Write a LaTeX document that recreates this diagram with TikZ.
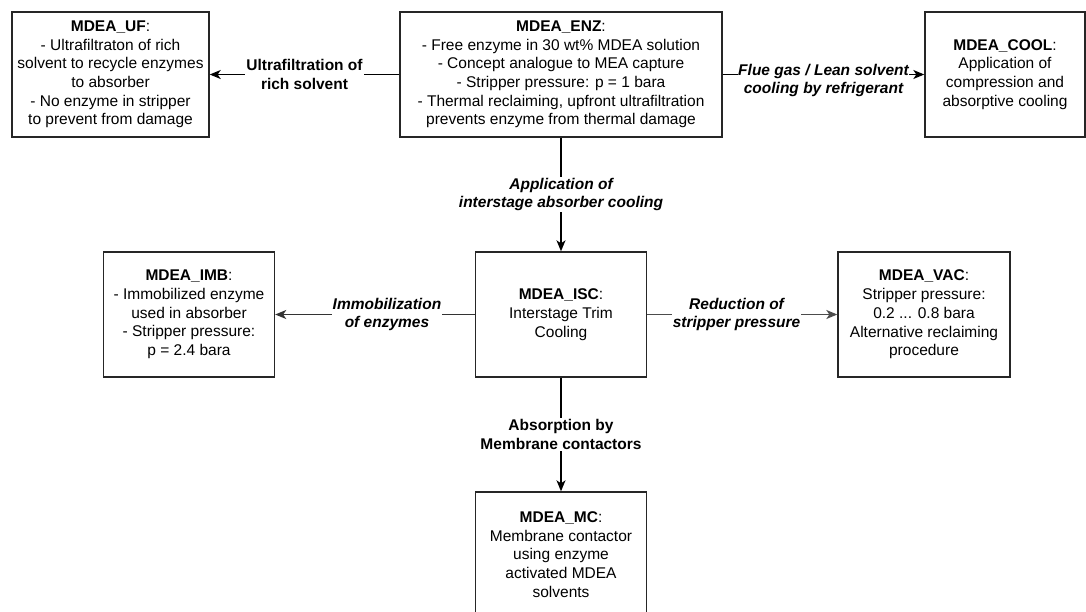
\documentclass[tikz,border=0pt]{standalone}
\usepackage{fontspec}
\setmainfont{Liberation Sans}
\usetikzlibrary{arrows.meta}
\newcommand{\nodefont}{\fontsize{15.5}{18.7}\selectfont}

\begin{document}
\begin{tikzpicture}[x=1pt,y=-1pt,>={Stealth[length=11pt,width=9pt,inset=3pt]},line width=1.4pt,
  box/.style={draw=black!85,align=center,inner sep=2pt,minimum height=125pt,font=\nodefont},
  lbl/.style={fill=white,align=center,inner sep=1pt,font=\nodefont\bfseries},
  ilbl/.style={lbl,font=\nodefont\bfseries\itshape}]
  \useasboundingbox (0,0) rectangle (1086,611);
  \clip (0,0) rectangle (1086,611);
  % top row
  \node[box,minimum width=197pt] (uf) at (110.5,74.5) {\textbf{MDEA\_UF}:\\- Ultrafiltraton of rich\\solvent to recycle enzymes\\to absorber\\- No enzyme in stripper\\to prevent from damage};
  \node[box,minimum width=322pt] (enz) at (561,74.5) {\textbf{MDEA\_ENZ}:\\- Free enzyme in 30 wt\% MDEA solution\\- Concept analogue to MEA capture\\- Stripper pressure: p = 1 bara\\- Thermal reclaiming, upfront ultrafiltration\\prevents enzyme from thermal damage};
  \node[box,minimum width=160pt] (cool) at (1005,74.5) {\textbf{MDEA\_COOL}:\\Application of\\compression and\\absorptive cooling};
  % middle row
  \node[box,minimum width=171pt] (imb) at (189,314.5) {\textbf{MDEA\_IMB}:\\- Immobilized enzyme\\used in absorber\\- Stripper pressure:\\p = 2.4 bara};
  \node[box,minimum width=171pt] (isc) at (561,314.5) {\textbf{MDEA\_ISC}:\\Interstage Trim\\Cooling};
  \node[box,minimum width=172pt] (vac) at (924,314.5) {\textbf{MDEA\_VAC}:\\Stripper pressure:\\0.2 ... 0.8 bara\\Alternative reclaiming\\procedure};
  % bottom, cut by the page edge
  \node[box,minimum width=171pt] (mc) at (561,554.5) {\textbf{MDEA\_MC}:\\Membrane contactor\\using enzyme\\activated MDEA\\solvents};
  % connectors
  \draw[->] (enz) -- node[lbl]{Ultrafiltration of\\rich solvent} (uf);
  \draw[->] (enz) -- node[ilbl,inner sep=0pt,yshift=-6pt]{Flue gas / Lean solvent\\cooling by refrigerant} (cool);
  \draw[->] (enz) -- node[ilbl]{Application of\\interstage absorber cooling} (isc);
  \draw[->,black!80] (isc) -- node[ilbl,text=black,pos=0.44]{Immobilization\\of enzymes} (imb);
  \draw[->,black!70] (isc) -- node[ilbl,text=black,pos=0.47]{Reduction of\\stripper pressure} (vac);
  \draw[->] (isc) -- node[lbl]{Absorption by\\Membrane contactors} (mc);
\end{tikzpicture}
\end{document}
